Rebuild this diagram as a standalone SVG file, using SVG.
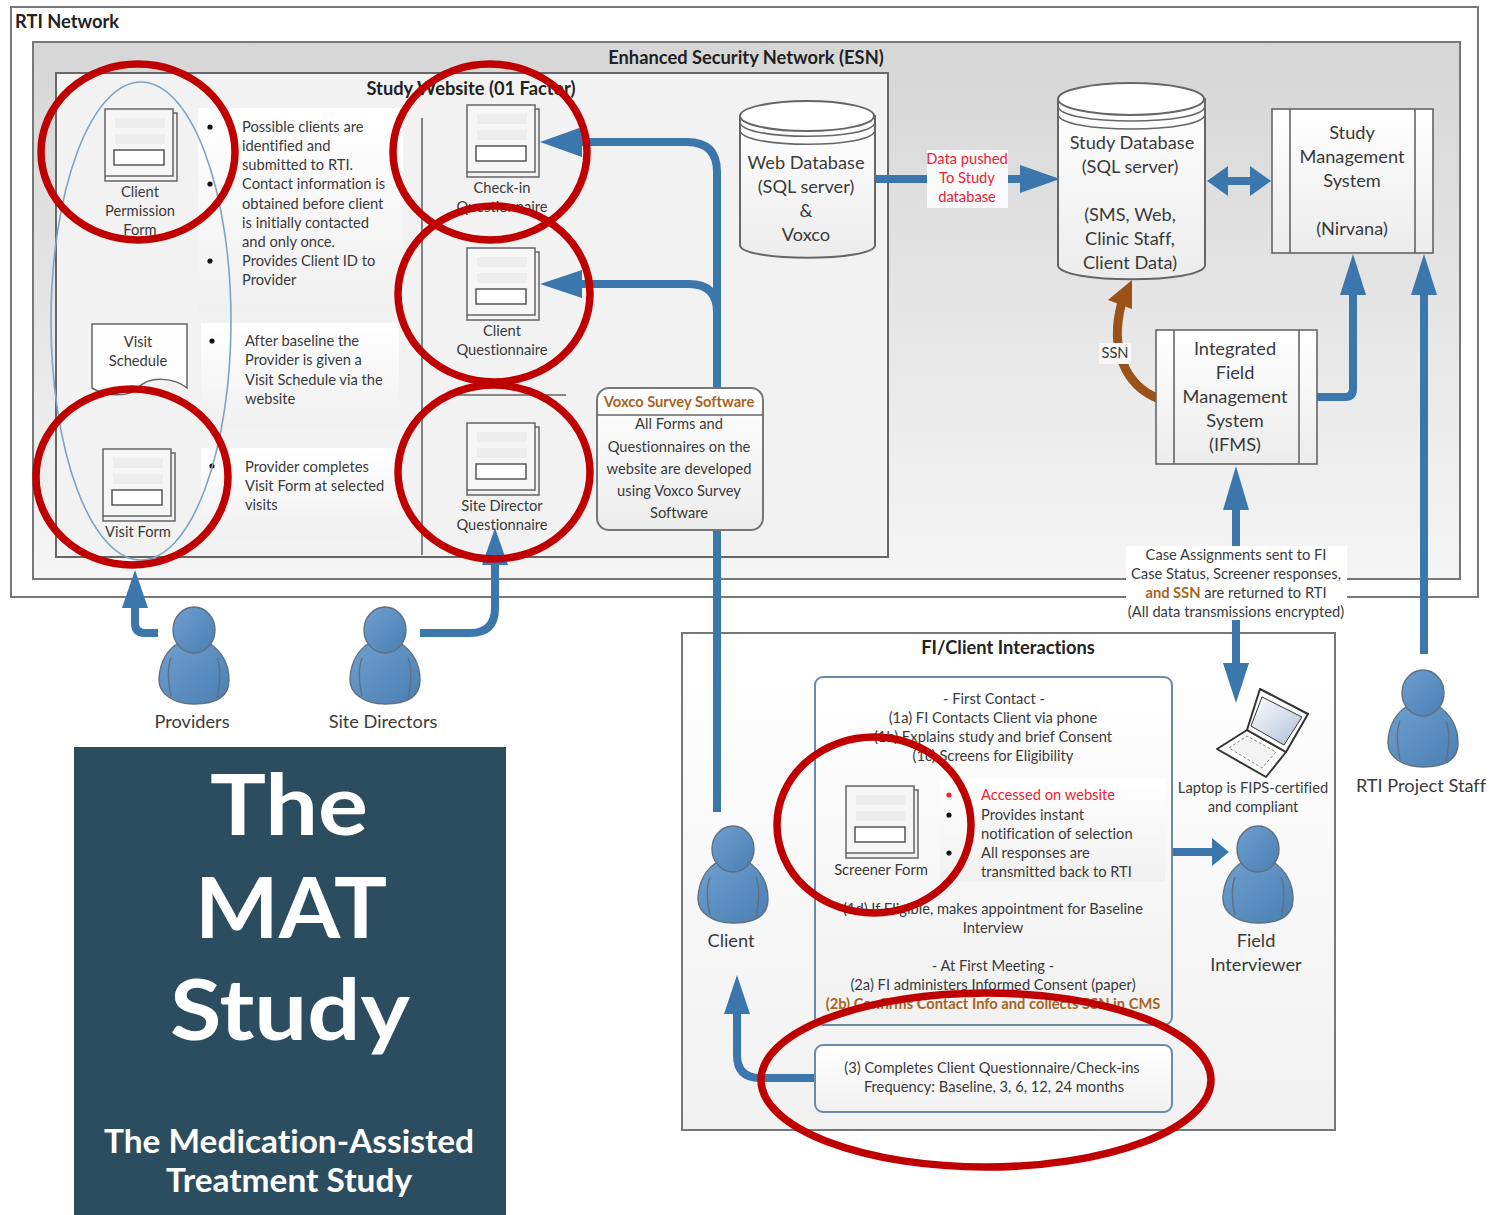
<svg xmlns="http://www.w3.org/2000/svg" width="1489" height="1215" viewBox="0 0 1489 1215">
<style>
text{font-family:"Lato","Open Sans","Liberation Sans",sans-serif;fill:#3a3a3a;font-variant-ligatures:none}
.t{font-size:14.7px}
.m{text-anchor:middle}
.b{font-size:18.2px}
.h{font-size:18.3px;font-weight:700;fill:#222}
.r{fill:#ee2233}
.o{fill:#a8641e;font-weight:700}
.box{fill:url(#g1);stroke:#666;stroke-width:1.6}
.line{fill:none;stroke:#666;stroke-width:1.6}
.conn{fill:none;stroke:#3b76ad;stroke-width:8}
.head{fill:#3b76ad;stroke:none}
.red{fill:none;stroke:#c00000;stroke-width:7.5}
.band{fill:url(#g2)}
.ptxt{fill:#fff;font-weight:700;text-anchor:middle}
</style>
<defs>
<linearGradient id="g1" x1="0" y1="0" x2="0" y2="1"><stop offset="0" stop-color="#fff"/><stop offset="1" stop-color="#ececec"/></linearGradient>
<linearGradient id="g2" x1="0" y1="0" x2="0" y2="1"><stop offset="0" stop-color="#fff"/><stop offset="1" stop-color="#f0f0f0"/></linearGradient>
<linearGradient id="g3" x1="0" y1="0" x2="0" y2="1"><stop offset="0" stop-color="#d6d6d6"/><stop offset="1" stop-color="#f5f5f5"/></linearGradient>
<linearGradient id="g4" x1="0" y1="0" x2="0" y2="1"><stop offset="0" stop-color="#fff"/><stop offset="1" stop-color="#f1f1f1"/></linearGradient>
<linearGradient id="g5" x1="0" y1="0" x2="1" y2="1"><stop offset="0" stop-color="#6ea0cf"/><stop offset="1" stop-color="#4a7fb2"/></linearGradient>
<linearGradient id="g6" x1="0" y1="0" x2="1" y2="1"><stop offset="0" stop-color="#fff"/><stop offset="1" stop-color="#aebfd8"/></linearGradient>
<g id="form">
<path d="M68 4H72V72H0V67" fill="#f2f2f2" stroke="#666" stroke-width="1.5"/>
<rect x="0" y="0" width="68" height="67" fill="#f6f6f6" stroke="#666" stroke-width="1.5"/>
<rect x="10" y="9" width="50" height="10" fill="#ededed"/>
<rect x="10" y="25" width="50" height="10" fill="#ededed"/>
<rect x="9" y="41" width="50" height="15" fill="#fff" stroke="#555" stroke-width="1.5"/>
</g>
<g id="person" stroke="#5f6f80" stroke-width="1.4">
<path d="M22 36C8 44 2 58 1 72C0 88 16 98 36 98C56 98 71 92 71 74C71 56 62 44 50 36Z" fill="url(#g5)"/>
<path d="M13 52C9 62 10 78 13 90M59 52C63 62 62 78 59 92" fill="none"/>
<ellipse cx="36" cy="24" rx="21" ry="23" fill="url(#g5)"/>
</g>
</defs>
<rect width="1489" height="1215" fill="#fff"/>
<g id="rti-network"><rect x="11" y="7" width="1467" height="590" fill="#fff" stroke="#777" stroke-width="2"/><text x="15" y="28" class="h">RTI Network</text></g>
<g id="esn"><rect x="33" y="42" width="1427" height="537" fill="url(#g3)" stroke="#777" stroke-width="2"/><text x="746" y="64" class="h m">Enhanced Security Network (ESN)</text></g>
<g id="study-website"><rect x="56" y="73" width="832" height="484" fill="#f2f2f2" stroke="#666" stroke-width="2"/><text x="471" y="95" class="h m">Study Website (01 Factor)</text>
<path class="line" d="M422 118V555M450 395H566"/></g>
<g id="fi-client"><rect x="682" y="633" width="653" height="497" fill="url(#g4)" stroke="#777" stroke-width="2"/><text x="1008" y="654" class="h m">FI/Client Interactions</text></g>

<g id="connectors">
<path class="conn" d="M717 812V172Q717 142 687 142H575"/>
<path class="conn" d="M717 312Q717 284 689 284H575"/>
<path class="head" d="M540 142L582 127V157ZM540 284L582 270V298Z"/>
<path class="conn" d="M876 179H1025"/><path class="head" d="M1060 179L1020 165V193Z"/>
<path class="conn" d="M1225 181H1255"/><path class="head" d="M1207 181L1228 166V196ZM1271 181L1250 166V196Z"/>
<path class="conn" d="M1316 397H1345Q1353 397 1353 389V285"/><path class="head" d="M1353 254L1340 295H1366Z"/>
<path class="conn" d="M1424 654V285"/><path class="head" d="M1424 254L1411 295H1437Z"/>
<path class="conn" d="M1236 550V500"/><path class="head" d="M1236 466L1223 510H1249Z"/>
<path class="conn" d="M1236 615V670"/><path class="head" d="M1236 703L1223 663H1249Z"/>
<path d="M1157 398C1128 386 1108 352 1122 302" fill="none" stroke="#9a5216" stroke-width="9"/><path fill="#9a5216" d="M1132 280L1108 300L1132 309Z"/>
<path class="conn" d="M158 633H145Q135 633 135 623V600"/><path class="head" d="M135 570L122 608H148Z"/>
<path class="conn" d="M420 633H470Q495 633 495 608V560"/><path class="head" d="M495 528L482 565H508Z"/>
<path class="conn" d="M814 1078H760Q737 1078 737 1055V1005"/><path class="head" d="M737 975L724 1014H750Z"/>
<path class="conn" d="M1170 852H1215"/><path class="head" d="M1229 852L1212 838V866Z"/>
</g>

<g id="data-pushed-label"><rect x="927" y="150" width="81" height="58" fill="#fafafa"/>
<text class="t m r" x="967" y="164">Data pushed</text><text class="t m r" x="967" y="183">To Study</text><text class="t m r" x="967" y="202">database</text></g>
<g id="ssn-label"><rect x="1099" y="343" width="32" height="21" fill="#f8f8f8"/><text class="t m" x="1115" y="358">SSN</text></g>

<g id="client-permission"><use href="#form" x="105" y="109"/><text class="t m" x="140" y="197">Client</text><text class="t m" x="140" y="216">Permission</text><text class="t m" x="140" y="235">Form</text></g>
<g id="visit-schedule"><path d="M92 324H187V388C175 378 150 375 138 388C128 398 105 396 92 388Z" fill="#fdfdfd" stroke="#666" stroke-width="1.5"/><text class="t m" x="138" y="347">Visit</text><text class="t m" x="138" y="366">Schedule</text></g>
<g id="visit-form"><use href="#form" x="103" y="449"/><text class="t m" x="138" y="537">Visit Form</text></g>
<g id="check-in"><use href="#form" x="467" y="105"/><text class="t m" x="502" y="193">Check-in</text><text class="t m" x="502" y="212">Questionnaire</text></g>
<g id="client-q"><use href="#form" x="467" y="248"/><text class="t m" x="502" y="336">Client</text><text class="t m" x="502" y="355">Questionnaire</text></g>
<g id="site-q"><use href="#form" x="467" y="423"/><text class="t m" x="502" y="511">Site Director</text><text class="t m" x="502" y="530">Questionnaire</text></g>

<g id="notes-1"><rect class="band" x="198" y="108" width="205" height="205"/>
<circle cx="210" cy="127" r="2.6" fill="#111"/><circle cx="210" cy="184" r="2.6" fill="#111"/><circle cx="210" cy="261" r="2.6" fill="#111"/>
<text class="t" x="242" y="132">Possible clients are</text><text class="t" x="242" y="151">identified and</text><text class="t" x="242" y="170">submitted to RTI.</text><text class="t" x="242" y="189">Contact information is</text><text class="t" x="242" y="209">obtained before client</text><text class="t" x="242" y="228">is initially contacted</text><text class="t" x="242" y="247">and only once.</text><text class="t" x="242" y="266">Provides Client ID to</text><text class="t" x="242" y="285">Provider</text></g>
<g id="notes-2"><rect class="band" x="201" y="323" width="198" height="105"/><circle cx="212" cy="341" r="2.6" fill="#111"/>
<text class="t" x="245" y="346">After baseline the</text><text class="t" x="245" y="365">Provider is given a</text><text class="t" x="245" y="385">Visit Schedule via the</text><text class="t" x="245" y="404">website</text></g>
<g id="notes-3"><rect class="band" x="201" y="448" width="198" height="90"/><circle cx="212" cy="466" r="2.6" fill="#111"/>
<text class="t" x="245" y="472">Provider completes</text><text class="t" x="245" y="491">Visit Form at selected</text><text class="t" x="245" y="510">visits</text></g>

<g id="ellipse-provider"><ellipse cx="141" cy="321" rx="90" ry="239" fill="none" stroke="#7fa3c4" stroke-width="1.6"/></g>

<g id="voxco"><rect x="597" y="388" width="166" height="142" rx="12" fill="url(#g1)" stroke="#777" stroke-width="2"/><path class="line" d="M597 415H763"/>
<text class="t m o" x="679" y="407">Voxco Survey Software</text><text class="t m" x="679" y="429">All Forms and</text><text class="t m" x="679" y="452">Questionnaires on the</text><text class="t m" x="679" y="474">website are developed</text><text class="t m" x="679" y="496">using Voxco Survey</text><text class="t m" x="679" y="518">Software</text></g>

<g id="web-db"><path d="M740 116V245C740 262 875 262 875 245V116Z" fill="url(#g1)" stroke="#666" stroke-width="2"/><ellipse cx="807" cy="116" rx="67" ry="15" fill="#fff" stroke="#666" stroke-width="2"/><path class="line" d="M740 122C740 141 875 141 875 122M740 130C740 149 875 149 875 130"/>
<text class="b m" x="806" y="169">Web Database</text><text class="b m" x="806" y="193">(SQL server)</text><text class="b m" x="806" y="217">&amp;</text><text class="b m" x="806" y="241">Voxco</text></g>
<g id="study-db"><path d="M1058 99V265C1058 284 1205 284 1205 265V99Z" fill="url(#g1)" stroke="#666" stroke-width="2"/><ellipse cx="1131" cy="99" rx="73" ry="16" fill="#fff" stroke="#666" stroke-width="2"/><path class="line" d="M1058 106C1058 126 1205 126 1205 106M1058 114C1058 134 1205 134 1205 114"/>
<text class="b m" x="1132" y="149">Study Database</text><text class="b m" x="1130" y="173">(SQL server)</text><text class="b m" x="1130" y="221">(SMS, Web,</text><text class="b m" x="1130" y="245">Clinic Staff,</text><text class="b m" x="1130" y="269">Client Data)</text></g>
<g id="sms"><rect x="1272" y="109" width="161" height="144" class="box"/><path class="line" d="M1290 109V253M1415 109V253"/>
<text class="b m" x="1352" y="139">Study</text><text class="b m" x="1352" y="163">Management</text><text class="b m" x="1352" y="187">System</text><text class="b m" x="1352" y="235">(Nirvana)</text></g>
<g id="ifms"><rect x="1156" y="330" width="161" height="134" class="box"/><path class="line" d="M1174 330V464M1299 330V464"/>
<text class="b m" x="1235" y="355">Integrated</text><text class="b m" x="1235" y="379">Field</text><text class="b m" x="1235" y="403">Management</text><text class="b m" x="1235" y="427">System</text><text class="b m" x="1235" y="451">(IFMS)</text></g>

<g id="case-label"><rect x="1126" y="546" width="221" height="74" fill="#fff"/>
<text class="t m" x="1236" y="560">Case Assignments sent to FI</text><text class="t m" x="1236" y="579">Case Status, Screener responses,</text><text class="t m" x="1236" y="598"><tspan class="o">and SSN</tspan> are returned to RTI</text><text class="t m" x="1236" y="617">(All data transmissions encrypted)</text></g>

<g id="providers"><use href="#person" x="158" y="606"/><text class="b m" x="192" y="728">Providers</text></g>
<g id="site-directors"><use href="#person" x="349" y="606"/><text class="b m" x="383" y="728">Site Directors</text></g>
<g id="rti-staff"><use href="#person" x="1387" y="669"/><text class="b m" x="1421" y="792">RTI Project Staff</text></g>
<g id="client"><use href="#person" x="697" y="825"/><text class="b m" x="731" y="947">Client</text></g>
<g id="field-interviewer"><use href="#person" x="1222" y="825"/><text class="b m" x="1256" y="947">Field</text><text class="b m" x="1256" y="971">Interviewer</text></g>

<g id="laptop"><path d="M1247 730L1286 752L1266 777L1217 749Z" fill="#fff" stroke="#333" stroke-width="2" stroke-linejoin="round"/><path d="M1260 689L1308 714L1286 752L1247 730Z" fill="#fff" stroke="#333" stroke-width="2" stroke-linejoin="round"/><path d="M1262 697L1302 717L1284 745L1251 726Z" fill="url(#g6)" stroke="#333"/><path d="M1229 748L1247 736L1276 752L1262 768Z" fill="#f3f3f3" stroke="#888" stroke-dasharray="3 2"/>
<text class="t m" x="1253" y="793">Laptop is FIPS-certified</text><text class="t m" x="1253" y="812">and compliant</text></g>

<g id="contact-box"><rect x="815" y="677" width="357" height="348" rx="8" fill="url(#g4)" stroke="#6a8aa8" stroke-width="2"/>
<text class="t m" x="994" y="704">- First Contact -</text><text class="t m" x="993" y="723">(1a) FI Contacts Client via phone</text><text class="t m" x="993" y="742">(1b) Explains study and brief Consent</text><text class="t m" x="993" y="761">(1c) Screens for Eligibility</text>
<rect class="band" x="940" y="779" width="225" height="103"/>
<circle cx="949" cy="795" r="2.6" fill="#ee2233"/><circle cx="949" cy="815" r="2.6" fill="#111"/><circle cx="949" cy="853" r="2.6" fill="#111"/>
<text class="t r" x="981" y="800">Accessed on website</text><text class="t" x="981" y="820">Provides instant</text><text class="t" x="981" y="839">notification of selection</text><text class="t" x="981" y="858">All responses are</text><text class="t" x="981" y="877">transmitted back to RTI</text>
<text class="t m" x="993" y="914">(1d) If Eligible, makes appointment for Baseline</text><text class="t m" x="993" y="933">Interview</text>
<text class="t m" x="993" y="971">- At First Meeting -</text><text class="t m" x="993" y="990">(2a) FI administers Informed Consent (paper)</text><text class="t m o" x="993" y="1009">(2b) Confirms Contact Info and collects SSN in CMS</text></g>
<g id="screener"><use href="#form" x="846" y="786"/><text class="t m" x="881" y="875">Screener Form</text></g>
<g id="frequency-box"><rect x="815" y="1045" width="357" height="67" rx="8" fill="url(#g4)" stroke="#6a8aa8" stroke-width="2"/><text class="t m" x="992" y="1073">(3) Completes Client Questionnaire/Check-ins</text><text class="t m" x="994" y="1092">Frequency: Baseline, 3, 6, 12, 24 months</text></g>

<g id="red-circles">
<ellipse class="red" cx="138" cy="152" rx="97" ry="88"/>
<ellipse class="red" cx="490" cy="152" rx="97" ry="88"/>
<ellipse class="red" cx="494" cy="294" rx="96" ry="88"/>
<ellipse class="red" cx="494" cy="472" rx="96" ry="87"/>
<ellipse class="red" cx="132" cy="477" rx="96" ry="88"/>
<ellipse class="red" cx="874" cy="825" rx="97" ry="88"/>
<ellipse class="red" cx="986" cy="1080" rx="225" ry="87"/>
</g>

<g id="mat-panel"><rect x="74" y="747" width="432" height="468" fill="#2b4d5f"/>
<text class="ptxt" x="289" y="835" font-size="85" textLength="158" lengthAdjust="spacingAndGlyphs">The</text><text class="ptxt" x="291" y="938" font-size="85" textLength="192" lengthAdjust="spacingAndGlyphs">MAT</text><text class="ptxt" x="290" y="1040" font-size="85" textLength="240" lengthAdjust="spacingAndGlyphs">Study</text>
<text class="ptxt" x="289" y="1153" font-size="33" textLength="370" lengthAdjust="spacingAndGlyphs">The Medication-Assisted</text><text class="ptxt" x="289" y="1192" font-size="33" textLength="246" lengthAdjust="spacingAndGlyphs">Treatment Study</text></g>
</svg>
